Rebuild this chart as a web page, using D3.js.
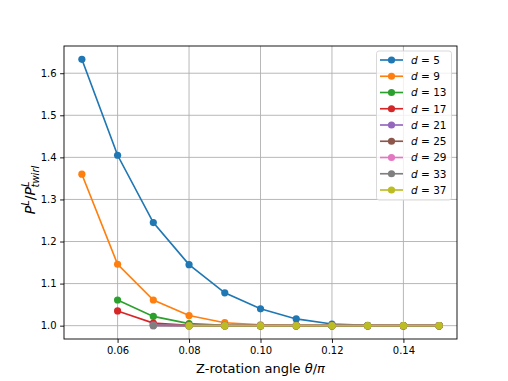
<!DOCTYPE html>
<html><head><meta charset="utf-8">
<script src="https://cdn.jsdelivr.net/npm/d3@7"></script>
<style>body{margin:0;background:#fff}</style>
</head><body>
<svg id="c" width="508" height="381"></svg>
<script>
const thetas = [0.05,0.06,0.07,0.08,0.09,0.10,0.11,0.12,0.13,0.14,0.15];
const dValues = [5,9,13,17,21,25,29,33,37];
const colors = ["#1f77b4","#ff7f0e","#2ca02c","#d62728","#9467bd","#8c564b","#e377c2","#7f7f7f","#bcbd22"];
// null = no point at that angle
const s5  = [1.633,1.405,1.245,1.145,1.078,1.040,1.016,1.004,1.001,1.000,1.000];
const s9  = [1.360,1.146,1.061,1.024,1.007,1.002,1.000,1.000,1.000,1.000,1.000];
const s13 = [null,1.061,1.022,1.005,1.001,1.000,1.000,1.000,1.000,1.000,1.000];
const s17 = [null,1.035,1.006,1.001,1.000,1.000,1.000,1.000,1.000,1.000,1.000];
const s21 = [null,null,1.002,1.000,1.000,1.000,1.000,1.000,1.000,1.000,1.000];
const s25 = [null,null,1.001,1.000,1.000,1.000,1.000,1.000,1.000,1.000,1.000];
const s29 = [null,null,1.000,1.000,1.000,1.000,1.000,1.000,1.000,1.000,1.000];
const s33 = [null,null,1.000,1.000,1.000,1.000,1.000,1.000,1.000,1.000,1.000];
const s37 = [null,null,null,1.000,1.000,1.000,1.000,1.000,1.000,1.000,1.000];
const seriesValues = [s5,s9,s13,s17,s21,s25,s29,s33,s37];
const xTicks = [0.06,0.08,0.10,0.12,0.14];
const yTicks = [1.0,1.1,1.2,1.3,1.4,1.5,1.6];

const L=64, R=457, T=46, B=339;
const svg = d3.select("#c");
const font = "DejaVu Sans, sans-serif";
const x = d3.scaleLinear().domain([0.045,0.155]).range([L,R]);
const y = d3.scaleLinear().domain([0.9683,1.6647]).range([B,T]);

// grid
const g = svg.append("g");
g.selectAll(".gx").data(xTicks).join("line")
  .attr("x1",d=>x(d)).attr("x2",d=>x(d)).attr("y1",T).attr("y2",B)
  .attr("stroke","#b0b0b0").attr("stroke-width",0.9);
g.selectAll(".gy").data(yTicks).join("line")
  .attr("y1",d=>y(d)).attr("y2",d=>y(d)).attr("x1",L).attr("x2",R)
  .attr("stroke","#b0b0b0").attr("stroke-width",0.9);

// axes
const xa = svg.append("g").attr("transform",`translate(0,${B})`)
  .call(d3.axisBottom(x).tickValues(xTicks).tickFormat(d3.format(".2f")).tickSize(3.9).tickPadding(3.5));
const ya = svg.append("g").attr("transform",`translate(${L},0)`)
  .call(d3.axisLeft(y).tickValues(yTicks).tickFormat(d3.format(".1f")).tickSize(3.9).tickPadding(3.5));
[xa,ya].forEach(a=>{
  a.select(".domain").remove();
  a.selectAll("text").attr("font-family",font).attr("font-size","10px").attr("fill","#000");
  a.selectAll("line").attr("stroke","#000").attr("stroke-width",0.9);
});

// lines
const line = d3.line().defined(d=>d.v!=null).x(d=>x(d.t)).y(d=>y(d.v));
seriesValues.forEach((s,i)=>{
  const pts = s.map((v,j)=>({t:thetas[j],v}));
  svg.append("path").datum(pts).attr("d",line).attr("fill","none")
    .attr("stroke",colors[i]).attr("stroke-width",1.65);
  svg.append("g").selectAll("circle").data(pts.filter(p=>p.v!=null)).join("circle")
    .attr("cx",d=>x(d.t)).attr("cy",d=>y(d.v)).attr("r",3.6).attr("fill",colors[i]);
});

// frame
svg.append("rect").attr("x",L).attr("y",T).attr("width",R-L).attr("height",B-T)
  .attr("fill","none").attr("stroke","#000").attr("stroke-width",0.9);

// legend
const lg = svg.append("g");
lg.append("rect").attr("x",376.5).attr("y",51).attr("width",75).attr("height",149)
  .attr("rx",2.5).attr("fill","#fff").attr("fill-opacity",0.8).attr("stroke","#d5d5d5").attr("stroke-width",0.9);
dValues.forEach((d,i)=>{
  const yy = 60 + i*16.25;
  lg.append("line").attr("x1",380).attr("x2",403).attr("y1",yy).attr("y2",yy)
    .attr("stroke",colors[i]).attr("stroke-width",1.65);
  lg.append("circle").attr("cx",391.5).attr("cy",yy).attr("r",3.6).attr("fill",colors[i]);
  const t = lg.append("text").attr("x",411).attr("y",yy+3.8).attr("font-family",font).attr("font-size","10.5px");
  t.append("tspan").attr("font-style","italic").text("d");
  t.append("tspan").text(" = " + d);
});

// x label
const xl = svg.append("text").attr("x",(L+R)/2).attr("y",373).attr("text-anchor","middle")
  .attr("font-family",font).attr("font-size","13px");
xl.append("tspan").text("Z-rotation angle ");
xl.append("tspan").attr("font-style","italic").text("θ");
xl.append("tspan").text("/");
xl.append("tspan").attr("font-style","italic").text("π");

// y label
const yl = svg.append("text").attr("transform",`translate(35,190) rotate(-90)`)
  .attr("text-anchor","middle").attr("font-family",font).attr("font-size","14px").attr("font-style","italic");
yl.append("tspan").text("P");
yl.append("tspan").attr("font-size","10px").attr("dy",-6).text("L");
yl.append("tspan").attr("font-style","normal").attr("dy",6).text("/");
yl.append("tspan").text("P");
yl.append("tspan").attr("font-size","10px").attr("dy",-6).text("L");
yl.append("tspan").attr("font-size","10px").attr("dx",-6).attr("dy",9.5).text("twirl");
</script>
</body></html>
